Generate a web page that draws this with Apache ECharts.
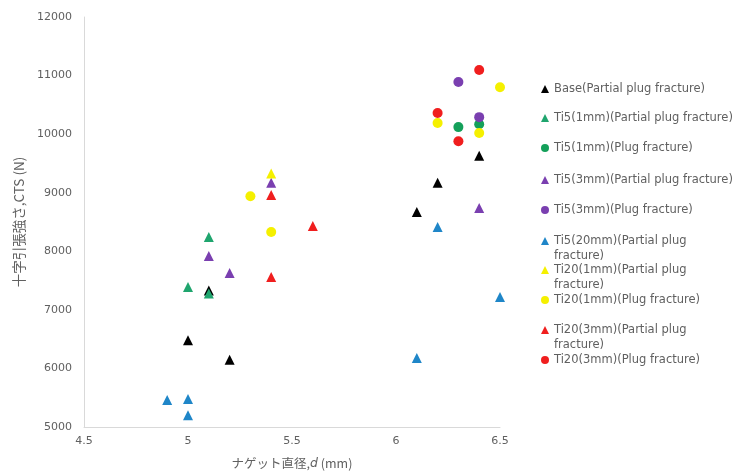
<!DOCTYPE html>
<html><head><meta charset="utf-8">
<script src="https://cdn.jsdelivr.net/npm/echarts@6/dist/echarts.min.js"></script>
<style>html,body{margin:0;padding:0;background:#fff}#c{width:737px;height:476px}</style>
</head><body><div id="c"></div>
<script>
const seriesNames = [
  'Base(Partial plug fracture)',
  'Ti5(1mm)(Partial plug fracture)',
  'Ti5(1mm)(Plug fracture)',
  'Ti5(3mm)(Partial plug fracture)',
  'Ti5(3mm)(Plug fracture)',
  'Ti5(20mm)(Partial plug fracture)',
  'Ti20(1mm)(Partial plug fracture)',
  'Ti20(1mm)(Plug fracture)',
  'Ti20(3mm)(Partial plug fracture)',
  'Ti20(3mm)(Plug fracture)'
];
const legendLabels = [
  'Base(Partial plug fracture)',
  'Ti5(1mm)(Partial plug fracture)',
  'Ti5(1mm)(Plug fracture)',
  'Ti5(3mm)(Partial plug fracture)',
  'Ti5(3mm)(Plug fracture)',
  'Ti5(20mm)(Partial plug\nfracture)',
  'Ti20(1mm)(Partial plug\nfracture)',
  'Ti20(1mm)(Plug fracture)',
  'Ti20(3mm)(Partial plug\nfracture)',
  'Ti20(3mm)(Plug fracture)'
];
const baseData       = [[5.0, 6480], [5.1, 7330], [5.2, 6150], [6.1, 8670], [6.2, 9170], [6.4, 9630]];
const ti5_1_partial  = [[5.0, 7390], [5.1, 8245], [5.1, 7280]];
const ti5_1_plug     = [[6.3, 10120], [6.4, 10170]];
const ti5_3_partial  = [[5.1, 7920], [5.2, 7630], [5.4, 9170], [6.4, 8740]];
const ti5_3_plug     = [[6.3, 10890], [6.4, 10290]];
const ti5_20_partial = [[4.9, 5460], [5.0, 5480], [5.0, 5200], [6.1, 6180], [6.2, 8415], [6.5, 7220]];
const ti20_1_partial = [[5.4, 9330]];
const ti20_1_plug    = [[5.3, 8940], [5.4, 8330], [6.2, 10190], [6.4, 10020], [6.5, 10800]];
const ti20_3_partial = [[5.4, 8960], [5.4, 7560], [5.6, 8430]];
const ti20_3_plug    = [[6.2, 10360], [6.3, 9880], [6.4, 11095]];
const xTicks = [4.5, 5, 5.5, 6, 6.5];
const yTicks = [5000, 6000, 7000, 8000, 9000, 10000, 11000, 12000];

const allData = [baseData, ti5_1_partial, ti5_1_plug, ti5_3_partial, ti5_3_plug,
  ti5_20_partial, ti20_1_partial, ti20_1_plug, ti20_3_partial, ti20_3_plug];
const colors = ['#000000', '#1fa56e', '#14a05a', '#7a3fb0', '#7a3fb0', '#1f86c8', '#f5f000', '#f5f000', '#f01e1e', '#f01e1e'];
const symbols = ['triangle', 'triangle', 'circle', 'triangle', 'circle', 'triangle', 'triangle', 'circle', 'triangle', 'circle'];
const legendCenters = [89, 118, 148, 180, 210, 241, 270, 300, 330, 360];

const font = '"DejaVu Sans", sans-serif';
const jfont = '"Noto Sans CJK JP", sans-serif';
const LH = 15;
const chart = echarts.init(document.getElementById('c'), null, {renderer: 'canvas'});
const legends = seriesNames.map((n, i) => {
  const multi = legendLabels[i].includes('\n');
  return {
    orient: 'vertical', left: 541, top: legendCenters[i] - (multi ? 1.5 * LH : 0.5 * LH),
    itemWidth: 8, itemHeight: 8, itemGap: 0, padding: 0,
    data: [{name: n, icon: symbols[i] === 'circle' ? 'circle' : 'triangle'}],
    formatter: () => (multi ? '\u00a0\n' : '') + legendLabels[i],
    textStyle: {color: '#606060', fontSize: 11.5, fontFamily: font, lineHeight: LH}
  };
});
chart.setOption({
  animation: false,
  color: colors,
  grid: {left: 84, top: 17, right: 237, bottom: 49},
  legend: legends,
  xAxis: {
    type: 'value', min: xTicks[0], max: xTicks[xTicks.length - 1], interval: 0.5,
    name: '{n|ナゲット直径,}{i|d}{n| (mm)}', nameLocation: 'middle', nameGap: 30,
    nameTextStyle: {rich: {n: {fontSize: 12.5, color: '#606060', fontFamily: jfont},
      i: {fontSize: 12.5, color: '#606060', fontStyle: 'italic', fontFamily: font}}},
    axisLine: {show: true, lineStyle: {color: '#d9d9d9'}},
    axisTick: {show: false},
    splitLine: {show: false},
    axisLabel: {color: '#606060', fontSize: 11, fontFamily: font, margin: 9,
      formatter: v => String(v)}
  },
  yAxis: {
    type: 'value', min: yTicks[0], max: yTicks[yTicks.length - 1], interval: 1000,
    name: '十字引張強さ,CTS (N)', nameLocation: 'middle', nameGap: 57, nameRotate: 90,
    nameTextStyle: {fontSize: 13.5, color: '#606060', fontFamily: jfont},
    axisLine: {show: true, lineStyle: {color: '#d9d9d9'}},
    axisTick: {show: false},
    splitLine: {show: false},
    axisLabel: {color: '#606060', fontSize: 11, fontFamily: font, margin: 12,
      formatter: v => String(v)}
  },
  series: seriesNames.map((n, i) => ({
    name: n, type: 'scatter', data: allData[i],
    symbol: symbols[i], symbolSize: 10,
    itemStyle: {color: colors[i], opacity: 1}
  }))
});
</script></body></html>
